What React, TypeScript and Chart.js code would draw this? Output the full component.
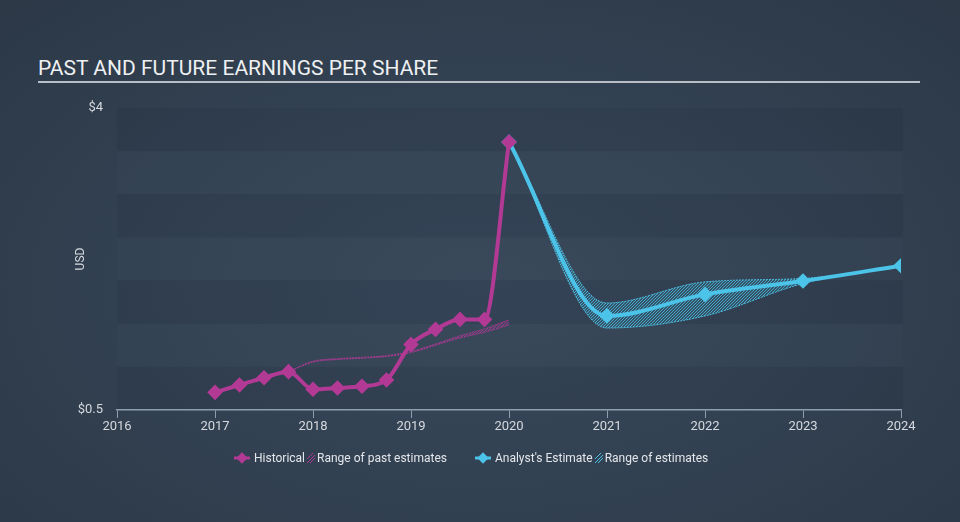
import React, { useEffect, useRef } from "react";
import { Chart, registerables } from "chart.js";

Chart.register(...registerables);

// ---- data ----
const histX = [2017, 2017.25, 2017.5, 2017.75, 2018, 2018.25, 2018.5, 2018.75, 2019, 2019.25, 2019.5, 2019.75, 2020];
const histY = [0.705, 0.79, 0.874, 0.944, 0.74, 0.755, 0.775, 0.848, 1.26, 1.435, 1.55, 1.55, 3.605];

const pastRangeX = [2017.75, 2018, 2018.25, 2018.5, 2018.75, 2019, 2019.25, 2019.5, 2019.75, 2020];
const pastRangeHigh = [0.944, 1.065, 1.095, 1.11, 1.13, 1.18, 1.265, 1.36, 1.44, 1.545];
const pastRangeLow = [0.944, 1.055, 1.085, 1.1, 1.12, 1.165, 1.25, 1.335, 1.4, 1.485];

const estX = [2020, 2021, 2022, 2023, 2024];
const estY = [3.605, 1.59, 1.84, 1.995, 2.172];
const estHigh = [3.605, 1.74, 1.985, 2.025, 2.172];
const estLow = [3.605, 1.45, 1.59, 1.965, 2.172];

const yTickValues = [0.5, 4];
const yTickLabels = ["$0.5", "$4"];
const yBandStep = 0.5;
const xMin = 2016;
const xMax = 2024;

const MAGENTA = "#b23a95";
const CYAN = "#4cc3e8";

const pts = (xs: number[], ys: number[]) => xs.map((x, i) => ({ x, y: ys[i] }));

function hatch(rgb: string) {
  const c = document.createElement("canvas");
  c.width = 3;
  c.height = 3;
  const g = c.getContext("2d")!;
  g.fillStyle = `rgba(${rgb},0.14)`;
  g.fillRect(0, 0, 3, 3);
  g.fillStyle = `rgba(${rgb},0.75)`;
  g.fillRect(2, 0, 1, 1);
  g.fillRect(1, 1, 1, 1);
  g.fillRect(0, 2, 1, 1);
  return g.createPattern(c, "repeat")!;
}

const bandsPlugin = {
  id: "bands",
  beforeDraw(chart: any) {
    const { ctx, chartArea, scales } = chart;
    const y = scales.y;
    ctx.save();
    let i = 0;
    for (let v = y.max; v > y.min + 1e-9; v -= yBandStep) {
      const top = y.getPixelForValue(v);
      const bot = y.getPixelForValue(v - yBandStep);
      ctx.fillStyle = i % 2 === 0 ? "rgba(10,18,30,0.065)" : "rgba(255,255,255,0.012)";
      ctx.fillRect(chartArea.left, top, chartArea.right - chartArea.left + 2, bot - top);
      i++;
    }
    ctx.restore();
  },
};

function LegendMarker({ color }: { color: string }) {
  return (
    <svg width="16" height="12" style={{ verticalAlign: "middle", marginRight: 4 }}>
      <line x1="0" y1="6" x2="16" y2="6" stroke={color} strokeWidth="3" />
      <rect x="4" y="2" width="8" height="8" fill={color} transform="rotate(45 8 6)" />
    </svg>
  );
}

function HatchIcon({ color }: { color: string }) {
  return (
    <svg width="8" height="10" style={{ verticalAlign: "middle", margin: "0 2px" }}>
      <line x1="0" y1="6" x2="6" y2="0" stroke={color} strokeWidth="1" />
      <line x1="0" y1="10" x2="8" y2="2" stroke={color} strokeWidth="1" />
      <line x1="3" y1="10" x2="8" y2="5" stroke={color} strokeWidth="1" />
    </svg>
  );
}

export default function App() {
  const ref = useRef<HTMLCanvasElement>(null);

  useEffect(() => {
    document.body.style.margin = "0";
    const ctx = ref.current!.getContext("2d")!;
    const magHatch = hatch("178,58,149");
    const cyanHatch = hatch("76,195,232");
    const chart = new Chart(ctx, {
      type: "line",
      data: {
        datasets: [
          {
            label: "Historical",
            data: pts(histX, histY),
            borderColor: MAGENTA,
            backgroundColor: MAGENTA,
            borderWidth: 4,
            pointStyle: "rectRot",
            pointRadius: 5,
            cubicInterpolationMode: "monotone",
            fill: false,
          },
          {
            label: "Analyst's Estimate",
            data: pts(estX, estY),
            borderColor: CYAN,
            backgroundColor: CYAN,
            borderWidth: 4,
            pointStyle: "rectRot",
            pointRadius: 5,
            cubicInterpolationMode: "monotone",
            fill: false,
          },
          {
            label: "pastHigh",
            data: pts(pastRangeX, pastRangeHigh),
            borderColor: "rgba(178,58,149,0.85)",
            borderWidth: 1,
            borderDash: [2, 1],
            pointRadius: 0,
            cubicInterpolationMode: "monotone",
            backgroundColor: magHatch,
            fill: "+1",
          },
          {
            label: "pastLow",
            data: pts(pastRangeX, pastRangeLow),
            borderColor: "rgba(178,58,149,0.85)",
            borderWidth: 1,
            borderDash: [2, 1],
            pointRadius: 0,
            cubicInterpolationMode: "monotone",
            fill: false,
          },
          {
            label: "estHigh",
            data: pts(estX, estHigh),
            borderColor: "rgba(76,195,232,0.9)",
            borderWidth: 1,
            borderDash: [2, 1],
            pointRadius: 0,
            cubicInterpolationMode: "monotone",
            backgroundColor: cyanHatch,
            fill: "+1",
          },
          {
            label: "estLow",
            data: pts(estX, estLow),
            borderColor: "rgba(76,195,232,0.9)",
            borderWidth: 1,
            borderDash: [2, 1],
            pointRadius: 0,
            cubicInterpolationMode: "monotone",
            fill: false,
          },
        ],
      },
      options: {
        animation: false,
        responsive: false,
        maintainAspectRatio: false,
        layout: { padding: { left: 70, right: 59, top: 108, bottom: 82 } },
        plugins: { legend: { display: false }, tooltip: { enabled: false } },
        scales: {
          x: {
            type: "linear",
            min: xMin,
            max: xMax,
            afterFit: (s: any) => {
              s.height = 30;
            },
            afterBuildTicks: (s: any) => {
              const t = [];
              for (let v = xMin; v <= xMax; v++) t.push({ value: v });
              s.ticks = t;
            },
            ticks: {
              color: "#d6d9de",
              font: { family: "Roboto", size: 13 },
              padding: 1,
              maxRotation: 0,
              callback: (v: any) => String(v),
            },
            grid: {
              display: true,
              drawOnChartArea: false,
              drawTicks: true,
              tickLength: 8,
              color: "#8e9db0",
              lineWidth: 1,
            },
            border: { display: true, color: "#8e9db0", width: 1.5 },
          },
          y: {
            type: "linear",
            min: 0.5,
            max: 4,
            afterFit: (s: any) => {
              s.width = 47;
            },
            afterBuildTicks: (s: any) => {
              s.ticks = yTickValues.map((v) => ({ value: v }));
            },
            ticks: {
              color: "#d6d9de",
              font: { family: "Roboto", size: 13 },
              padding: 6,
              callback: (v: any) => {
                const i = yTickValues.indexOf(Number(v));
                return i >= 0 ? yTickLabels[i] : "";
              },
            },
            grid: { display: false },
            border: { display: false },
            title: {
              display: true,
              text: "USD",
              color: "#d6d9de",
              font: { family: "Roboto", size: 12 },
              padding: { top: 4, bottom: 0 },
            },
          },
        },
      },
      plugins: [bandsPlugin],
    });
    return () => chart.destroy();
  }, []);

  return (
    <div
      style={{
        position: "relative",
        width: 960,
        height: 522,
        overflow: "hidden",
        background: "radial-gradient(ellipse at 50% 55%, #37475a 0%, #334253 45%, #2c3846 100%)",
        fontFamily: "Roboto, sans-serif",
      }}
    >
      <div
        style={{
          position: "absolute",
          left: 38,
          top: 56,
          fontSize: 21,
          color: "#eef0f2",
          letterSpacing: 0,
          whiteSpace: "nowrap",
        }}
      >
        PAST AND FUTURE EARNINGS PER SHARE
      </div>
      <div style={{ position: "absolute", left: 38, top: 81, width: 882, height: 2, background: "#b9bec6" }} />
      <canvas ref={ref} width={960} height={522} style={{ position: "absolute", left: 0, top: 0 }} />
      <div
        style={{
          position: "absolute",
          left: 234,
          top: 451,
          fontSize: 12,
          color: "#e4e6ea",
          whiteSpace: "nowrap",
          display: "flex",
          alignItems: "center",
        }}
      >
        <LegendMarker color={MAGENTA} />
        <span>Historical</span>
        <HatchIcon color={MAGENTA} />
        <span>Range of past estimates</span>
        <span style={{ display: "inline-block", width: 28 }} />
        <LegendMarker color={CYAN} />
        <span>Analyst's Estimate</span>
        <HatchIcon color={CYAN} />
        <span>Range of estimates</span>
      </div>
    </div>
  );
}
